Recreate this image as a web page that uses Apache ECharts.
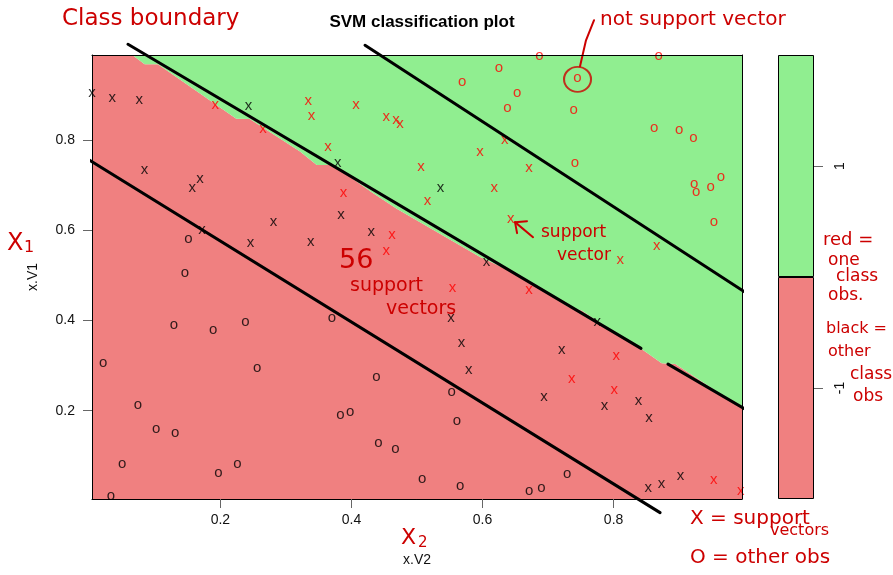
<!DOCTYPE html>
<html>
<head>
<meta charset="utf-8">
<script src="https://cdn.jsdelivr.net/npm/echarts@6/dist/echarts.min.js"></script>
<style>
html, body { margin: 0; padding: 0; background: #fff; }
#chart { width: 893px; height: 575px; }
</style>
</head>
<body>
<div id="chart"></div>
<script>
// Axis ranges (data range of the two features) and tick positions
const xRange = [0.004, 0.996];
const yRange = [0.004, 0.989];
const axisTicks = [0.2, 0.4, 0.6, 0.8];

// Decision region edge (x.V2, x.V1): green above, red below
const decisionEdge = [
  [0.0655, 0.989], [0.0844, 0.9685], [0.1047, 0.9685], [0.2242, 0.8476],
  [0.2447, 0.8472], [0.3215, 0.775], [0.347, 0.7452], [0.3723, 0.7452],
  [0.4309, 0.6847], [0.4691, 0.6477], [0.5962, 0.5406], [0.6572, 0.5],
  [0.731, 0.4297], [0.7514, 0.4224], [0.8176, 0.3566], [0.8416, 0.3381],
  [0.8735, 0.3049], [0.8943, 0.3033], [0.996, 0.2051]
];

// Support vectors (drawn as "x")
const redSupport = [
  [0.192, 0.877], [0.334, 0.884], [0.265, 0.822], [0.339, 0.851], [0.407, 0.877],
  [0.453, 0.849], [0.468, 0.843], [0.474, 0.835], [0.364, 0.784], [0.388, 0.680],
  [0.506, 0.738], [0.596, 0.771], [0.634, 0.798], [0.618, 0.691], [0.671, 0.737],
  [0.866, 0.563], [0.810, 0.532], [0.671, 0.466], [0.643, 0.623], [0.462, 0.588],
  [0.453, 0.552], [0.516, 0.663], [0.554, 0.470], [0.804, 0.319], [0.736, 0.269],
  [0.801, 0.245], [0.953, 0.045], [0.994, 0.019]
];
const blackSupport = [
  [0.004, 0.902], [0.035, 0.891], [0.076, 0.887], [0.243, 0.874], [0.084, 0.733],
  [0.169, 0.711], [0.157, 0.691], [0.379, 0.747], [0.536, 0.691], [0.172, 0.598],
  [0.246, 0.570], [0.281, 0.616], [0.384, 0.632], [0.430, 0.594], [0.338, 0.572],
  [0.606, 0.528], [0.552, 0.404], [0.568, 0.348], [0.579, 0.288], [0.775, 0.395],
  [0.721, 0.333], [0.694, 0.229], [0.786, 0.209], [0.838, 0.220], [0.854, 0.182],
  [0.853, 0.027], [0.873, 0.035], [0.902, 0.054]
];

// Remaining observations (drawn as "o")
const redOther = [
  [0.625, 0.959], [0.569, 0.928], [0.653, 0.903], [0.638, 0.869], [0.687, 0.984],
  [0.869, 0.984], [0.745, 0.935], [0.739, 0.864], [0.862, 0.826], [0.900, 0.820],
  [0.922, 0.804], [0.741, 0.748], [0.923, 0.702], [0.926, 0.683], [0.948, 0.694],
  [0.964, 0.716], [0.953, 0.616]
];
const blackOther = [
  [0.151, 0.580], [0.146, 0.503], [0.129, 0.387], [0.189, 0.377], [0.238, 0.395],
  [0.370, 0.404], [0.438, 0.272], [0.553, 0.240], [0.383, 0.188], [0.398, 0.195],
  [0.561, 0.176], [0.441, 0.126], [0.467, 0.114], [0.508, 0.047], [0.566, 0.032],
  [0.021, 0.304], [0.256, 0.292], [0.074, 0.211], [0.102, 0.158], [0.131, 0.148],
  [0.050, 0.080], [0.226, 0.080], [0.197, 0.060], [0.033, 0.009], [0.729, 0.058],
  [0.671, 0.020], [0.690, 0.027]
];

// Hand-drawn margin lines
const boundaryLineA1 = [[0.0589, 1.0129], [0.8419, 0.3381]];
const boundaryLineA2 = [[0.8831, 0.3033], [1.0083, 0.1969]];
const marginLineUpper = [[0.4207, 1.0107], [1.0029, 0.4608]];
const marginLineLower = [[-0.0067, 0.7617], [0.8709, -0.0262]];

// Pointers for the notes
const circledPoint = [[0.745, 0.935]];
const circlePointer = [[0.7488, 0.964], [0.7579, 1.0217], [0.7702, 1.0661]];
const arrowShaft = [[0.6771, 0.5849], [0.6496, 0.6182]];
const arrowHead = [[0.6679, 0.6204], [0.6496, 0.6182], [0.6527, 0.5938]];

// Colour key
const keyLevels = [-2, 0, 2];
const keyTicks = [-1, 1];
const regionColors = { neg: '#F08080', pos: '#90EE90' };

const ink = '#cc0000';
const hand = 'DejaVu Sans';
const plain = 'Liberation Sans';

function glyphSeries(data, ch, color) {
  return {
    type: 'scatter', xAxisIndex: 0, yAxisIndex: 0, data: data,
    symbolSize: 2, itemStyle: { color: 'rgba(0,0,0,0)' }, z: 3, silent: true,
    label: {
      show: true, position: 'inside', formatter: ch, offset: [0, -1],
      color: color, fontSize: 15, fontFamily: plain
    }
  };
}
function strokeSeries(data, color, width) {
  return {
    type: 'line', xAxisIndex: 0, yAxisIndex: 0, data: data, clip: false,
    symbol: 'none', silent: true, z: 5,
    lineStyle: { color: color, width: width, cap: 'round', join: 'round' }
  };
}
function note(text, x, y, size) {
  return { type: 'text', left: x, top: y, silent: true, z: 20,
    style: { text: text, fill: ink, fontSize: size, fontFamily: hand } };
}

const chart = echarts.init(document.getElementById('chart'), null, { renderer: 'canvas' });

const redEdge = [[xRange[0], yRange[1]]].concat(decisionEdge);

chart.setOption({
  animation: false,
  backgroundColor: '#ffffff',
  title: {
    text: 'SVM classification plot', left: 417, top: 9, textAlign: 'center',
    textStyle: { fontSize: 17, fontWeight: 'bold', fontFamily: plain, color: '#000' }
  },
  grid: [
    { left: 92, top: 55, width: 650, height: 444 },
    { left: 778, top: 55, width: 36, height: 444 }
  ],
  xAxis: [
    {
      gridIndex: 0, type: 'value', min: xRange[0], max: xRange[1], position: 'bottom', z: 10,
      axisLine: { show: true, onZero: false, lineStyle: { color: '#000', width: 1 } },
      axisTick: { show: true, customValues: axisTicks, length: 9, lineStyle: { color: '#666' } },
      axisLabel: { customValues: axisTicks, margin: 14, fontSize: 14, fontFamily: plain, color: '#111',
        formatter: v => v.toFixed(1) },
      splitLine: { show: false },
      name: 'x.V2', nameLocation: 'middle', nameGap: 54,
      nameTextStyle: { fontSize: 14, fontFamily: plain, color: '#111' }
    },
    {
      gridIndex: 0, type: 'value', min: xRange[0], max: xRange[1], position: 'top', z: 10,
      axisLine: { show: true, onZero: false, lineStyle: { color: '#000', width: 1 } },
      axisTick: { show: false }, axisLabel: { show: false }, splitLine: { show: false }
    },
    { gridIndex: 1, type: 'category', data: ['key'], show: false }
  ],
  yAxis: [
    {
      gridIndex: 0, type: 'value', min: yRange[0], max: yRange[1], position: 'left', z: 10,
      axisLine: { show: true, onZero: false, lineStyle: { color: '#000', width: 1 } },
      axisTick: { show: true, customValues: axisTicks, length: 9, lineStyle: { color: '#666' } },
      axisLabel: { customValues: axisTicks, margin: 17, fontSize: 14, fontFamily: plain, color: '#111',
        formatter: v => v.toFixed(1) },
      splitLine: { show: false },
      name: 'x.V1', nameLocation: 'middle', nameGap: 52, nameRotate: 90,
      nameTextStyle: { fontSize: 14, fontFamily: plain, color: '#111' }
    },
    {
      gridIndex: 0, type: 'value', min: yRange[0], max: yRange[1], position: 'right', z: 10,
      axisLine: { show: true, onZero: false, lineStyle: { color: '#000', width: 1 } },
      axisTick: { show: false }, axisLabel: { show: false }, splitLine: { show: false }
    },
    {
      gridIndex: 1, type: 'value', min: keyLevels[0], max: keyLevels[2], position: 'right',
      axisLine: { show: false },
      axisTick: { show: true, customValues: keyTicks, length: 9, lineStyle: { color: '#666' } },
      axisLabel: { customValues: keyTicks, rotate: 90, margin: 19, fontSize: 14, fontFamily: plain, color: '#111' },
      splitLine: { show: false }
    }
  ],
  series: [
    {
      type: 'line', xAxisIndex: 0, yAxisIndex: 0, data: redEdge, symbol: 'none', silent: true, z: 1,
      lineStyle: { width: 0 }, areaStyle: { color: regionColors.neg, opacity: 1, origin: 'start' }
    },
    {
      type: 'line', xAxisIndex: 0, yAxisIndex: 0, data: decisionEdge, symbol: 'none', silent: true, z: 1,
      lineStyle: { width: 0 }, areaStyle: { color: regionColors.pos, opacity: 1, origin: 'end' }
    },
    glyphSeries(redOther, 'o', '#ff0000'),
    glyphSeries(blackOther, 'o', '#000000'),
    glyphSeries(redSupport, 'x', '#ff0000'),
    glyphSeries(blackSupport, 'x', '#000000'),
    strokeSeries(boundaryLineA1, '#000', 3),
    strokeSeries(boundaryLineA2, '#000', 3),
    strokeSeries(marginLineUpper, '#000', 3),
    strokeSeries(marginLineLower, '#000', 3),
    strokeSeries(circlePointer, ink, 2),
    strokeSeries(arrowShaft, ink, 2),
    strokeSeries(arrowHead, ink, 2),
    {
      type: 'scatter', xAxisIndex: 0, yAxisIndex: 0, data: circledPoint, symbol: 'circle',
      symbolSize: [27, 25], silent: true, z: 6,
      itemStyle: { color: 'rgba(0,0,0,0)', borderColor: ink, borderWidth: 2 }
    },
    {
      type: 'bar', xAxisIndex: 2, yAxisIndex: 2, stack: 'key', barWidth: '100%', silent: true,
      data: [keyLevels[2] - keyLevels[1]],
      itemStyle: { color: regionColors.pos, borderColor: '#000', borderWidth: 1 }
    },
    {
      type: 'bar', xAxisIndex: 2, yAxisIndex: 2, stack: 'key', barWidth: '100%', silent: true,
      data: [keyLevels[0] - keyLevels[1]],
      itemStyle: { color: regionColors.neg, borderColor: '#000', borderWidth: 1 }
    }
  ],
  graphic: [
    note('Class boundary', 62, 8, 23),
    note('not support vector', 600, 10, 20),
    note('support', 541, 224, 17),
    note('vector', 557, 247, 17),
    note('56', 339, 247, 27),
    note('support', 350, 277, 19),
    note('vectors', 386, 300, 19),
    note('X', 7, 232, 24),
    note('1', 24, 240, 16),
    note('X', 401, 527, 22),
    note('2', 418, 536, 15),
    note('red =', 823, 231, 18),
    note('one', 828, 252, 17),
    note('class', 836, 268, 17),
    note('obs.', 828, 287, 17),
    note('black =', 826, 321, 16),
    note('other', 828, 344, 16),
    note('class', 850, 366, 17),
    note('obs', 853, 388, 17),
    note('X = support', 690, 509, 20),
    note('vectors', 770, 523, 16),
    note('O = other obs', 690, 548, 20)
  ]
});
</script>
</body>
</html>
